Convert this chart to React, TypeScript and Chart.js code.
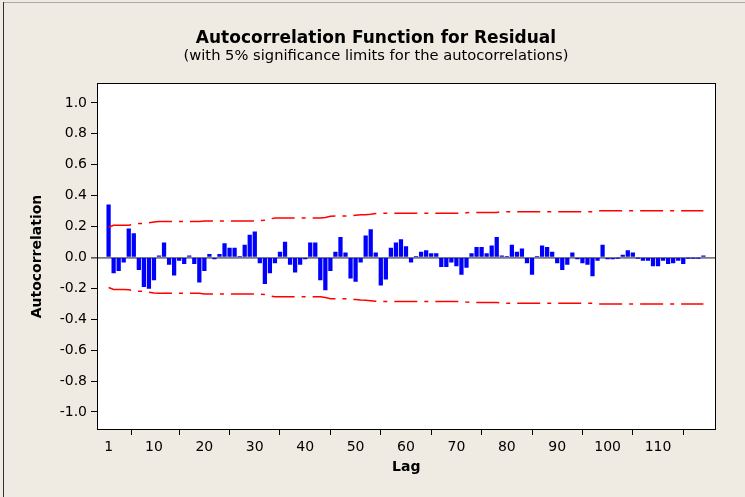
import React, { useEffect, useRef } from "react";
import { Chart, registerables } from "chart.js";

Chart.register(...registerables);

const titleText = "Autocorrelation Function for Residual";
const subtitleText = "(with 5% significance limits for the autocorrelations)";
const xTitle = "Lag";
const yTitle = "Autocorrelation";

const xTickValues = [1, 10, 20, 30, 40, 50, 60, 70, 80, 90, 100, 110];
const yTickValues = [-1.0, -0.8, -0.6, -0.4, -0.2, 0.0, 0.2, 0.4, 0.6, 0.8, 1.0];

// autocorrelation for lags 1..119
const acfValues = [
  0.34, -0.10, -0.085, -0.03, 0.185, 0.155, -0.08, -0.19, -0.20, -0.145,
  0.01, 0.095, -0.045, -0.115, -0.02, -0.04, 0.01, -0.04, -0.16, -0.086,
  0.02, -0.01, 0.02, 0.09, 0.06, 0.06, 0.005, 0.08, 0.145, 0.165,
  -0.035, -0.17, -0.10, -0.035, 0.035, 0.10, -0.045, -0.095, -0.045, -0.01,
  0.095, 0.095, -0.145, -0.21, -0.085, 0.035, 0.13, 0.03, -0.135, -0.155,
  -0.03, 0.14, 0.18, 0.03, -0.18, -0.14, 0.06, 0.095, 0.115, 0.07,
  -0.03, 0.005, 0.035, 0.045, 0.025, 0.025, -0.06, -0.06, -0.03, -0.055,
  -0.11, -0.065, 0.025, 0.065, 0.065, 0.025, 0.075, 0.13, 0.01, 0.005,
  0.08, 0.035, 0.055, -0.035, -0.11, 0.005, 0.075, 0.065, 0.035, -0.035,
  -0.08, -0.045, 0.03, -0.01, -0.035, -0.045, -0.12, -0.02, 0.08, -0.01,
  -0.01, -0.005, 0.015, 0.045, 0.03, -0.005, -0.02, -0.02, -0.055, -0.055,
  -0.02, -0.04, -0.035, -0.02, -0.04, -0.005, -0.005, -0.005, 0.01,
];

// upper 5% significance limit for lags 1..119
const upperLimit = [
  0.195, 0.208, 0.208, 0.208, 0.209, 0.215, 0.219, 0.220, 0.225, 0.230,
  0.232, 0.232, 0.232, 0.232, 0.232, 0.232, 0.232, 0.232, 0.232, 0.236,
  0.236, 0.236, 0.236, 0.236, 0.236, 0.236, 0.236, 0.236, 0.236, 0.236,
  0.238, 0.240, 0.249, 0.255, 0.255, 0.255, 0.255, 0.255, 0.255, 0.255,
  0.255, 0.255, 0.255, 0.259, 0.267, 0.268, 0.268, 0.268, 0.270, 0.273,
  0.276, 0.277, 0.280, 0.284, 0.286, 0.286, 0.286, 0.286, 0.286, 0.286,
  0.286, 0.286, 0.286, 0.286, 0.286, 0.286, 0.286, 0.286, 0.286, 0.286,
  0.286, 0.289, 0.291, 0.291, 0.291, 0.291, 0.291, 0.291, 0.296, 0.296,
  0.296, 0.296, 0.296, 0.296, 0.296, 0.296, 0.296, 0.296, 0.296, 0.296,
  0.296, 0.296, 0.296, 0.296, 0.296, 0.296, 0.296, 0.302, 0.302, 0.302,
  0.302, 0.302, 0.302, 0.302, 0.302, 0.302, 0.302, 0.302, 0.302, 0.302,
  0.302, 0.302, 0.302, 0.302, 0.302, 0.302, 0.302, 0.302, 0.302,
];

// lower 5% significance limit for lags 1..119
const lowerLimit = [
  -0.195, -0.208, -0.208, -0.208, -0.209, -0.215, -0.219, -0.220, -0.225, -0.230,
  -0.232, -0.232, -0.232, -0.232, -0.232, -0.232, -0.232, -0.232, -0.232, -0.236,
  -0.236, -0.236, -0.236, -0.236, -0.236, -0.236, -0.236, -0.236, -0.236, -0.236,
  -0.238, -0.240, -0.249, -0.255, -0.255, -0.255, -0.255, -0.255, -0.255, -0.255,
  -0.255, -0.255, -0.255, -0.259, -0.267, -0.268, -0.268, -0.268, -0.270, -0.273,
  -0.276, -0.277, -0.280, -0.284, -0.286, -0.286, -0.286, -0.286, -0.286, -0.286,
  -0.286, -0.286, -0.286, -0.286, -0.286, -0.286, -0.286, -0.286, -0.286, -0.286,
  -0.286, -0.289, -0.291, -0.291, -0.291, -0.291, -0.291, -0.291, -0.296, -0.296,
  -0.296, -0.296, -0.296, -0.296, -0.296, -0.296, -0.296, -0.296, -0.296, -0.296,
  -0.296, -0.296, -0.296, -0.296, -0.296, -0.296, -0.296, -0.302, -0.302, -0.302,
  -0.302, -0.302, -0.302, -0.302, -0.302, -0.302, -0.302, -0.302, -0.302, -0.302,
  -0.302, -0.302, -0.302, -0.302, -0.302, -0.302, -0.302, -0.302, -0.302,
];

const lags = acfValues.map((_, i) => i + 1);

const BG = "#EFEBE2";
const FONT = "'DejaVu Sans', Verdana, sans-serif";

const framePlugin = {
  id: "frame",
  beforeDraw(chart: any) {
    const { ctx, chartArea, width, height } = chart;
    ctx.save();
    ctx.fillStyle = BG;
    ctx.fillRect(0, 0, width, height);
    ctx.fillStyle = "#ffffff";
    ctx.fillRect(chartArea.left, chartArea.top, chartArea.right - chartArea.left, chartArea.bottom - chartArea.top);
    // outer window edges
    ctx.fillStyle = "#a8a8a8";
    ctx.fillRect(3, 2, width - 3, 1);
    ctx.fillStyle = "#303030";
    ctx.fillRect(3, 2, 1, height - 2);
    ctx.restore();
  },
  afterDraw(chart: any) {
    const { ctx, chartArea } = chart;
    ctx.save();
    ctx.strokeStyle = "#000";
    ctx.lineWidth = 1;
    ctx.strokeRect(
      Math.round(chartArea.left) + 0.5,
      Math.round(chartArea.top) + 0.5,
      Math.round(chartArea.right - chartArea.left) - 1,
      Math.round(chartArea.bottom - chartArea.top) - 1
    );
    ctx.restore();
  },
};

export default function App() {
  const ref = useRef<HTMLCanvasElement | null>(null);

  useEffect(() => {
    document.body.style.margin = "0";
    const canvas = ref.current;
    if (!canvas) return;
    Chart.defaults.font.family = FONT;
    Chart.defaults.color = "#000";

    const chart = new Chart(canvas, {
      type: "bar",
      data: {
        datasets: [
          {
            type: "line",
            label: "upper",
            data: lags.map((l, i) => ({ x: l, y: upperLimit[i] })),
            borderColor: "#FF0000",
            borderWidth: 1.5,
            borderDash: [23, 7, 4, 7],
            pointRadius: 0,
            tension: 0,
            fill: false,
          } as any,
          {
            type: "line",
            label: "lower",
            data: lags.map((l, i) => ({ x: l, y: lowerLimit[i] })),
            borderColor: "#FF0000",
            borderWidth: 1.5,
            borderDash: [23, 7, 4, 7],
            pointRadius: 0,
            tension: 0,
            fill: false,
          } as any,
          {
            type: "bar",
            label: "ACF",
            data: lags.map((l, i) => ({ x: l, y: acfValues[i] })),
            backgroundColor: "#0000FF",
            borderWidth: 0,
            barThickness: 3.6,
          } as any,
        ],
      },
      options: {
        responsive: false,
        animation: false,
        layout: { padding: { left: 7, right: 0, top: 0, bottom: 0 } },
        plugins: {
          legend: { display: false },
          tooltip: { enabled: false },
          title: {
            display: true,
            text: titleText,
            color: "#000",
            font: { family: FONT, size: 17, weight: "bold", lineHeight: 1.0 },
            padding: { top: 30.5, bottom: 0 },
          },
          subtitle: {
            display: true,
            text: subtitleText,
            color: "#000",
            font: { family: FONT, size: 14.7, weight: "normal", lineHeight: 1.0 },
            padding: { top: 1.6, bottom: 19.2 },
          },
        },
        scales: {
          x: {
            type: "linear",
            min: -1.3,
            max: 121.4,
            offset: false,
            grid: { drawOnChartArea: false, drawTicks: true, tickLength: 5, color: "#000", tickColor: "#000" },
            border: { display: false },
            ticks: {
              font: { family: FONT, size: 14 },
              color: "#000",
              padding: 4,
              autoSkip: false,
              maxRotation: 0,
              callback: (v: any) => String(v),
            },
            afterBuildTicks: (scale: any) => {
              scale.ticks = xTickValues.map((v) => ({ value: v }));
            },
            afterFit: (scale: any) => {
              scale.height = 67;
            },
            title: {
              display: true,
              text: xTitle,
              color: "#000",
              font: { family: FONT, size: 14, weight: "bold" },
              padding: { top: 0, bottom: 21.6 },
            },
          },
          y: {
            type: "linear",
            min: -1.117,
            max: 1.129,
            grid: {
              drawOnChartArea: true,
              drawTicks: true,
              tickLength: 6,
              color: (ctx: any) => (ctx.tick && ctx.tick.value === 0 ? "#7a7a7a" : "rgba(0,0,0,0)"),
              lineWidth: (ctx: any) => (ctx.tick && ctx.tick.value === 0 ? 1.8 : 1),
              tickColor: "#000",
              tickWidth: 1,
            },
            border: { display: false },
            ticks: {
              font: { family: FONT, size: 14 },
              color: "#000",
              padding: 4,
              autoSkip: false,
              callback: (v: any) => Number(v).toFixed(1),
            },
            afterBuildTicks: (scale: any) => {
              scale.ticks = yTickValues.map((v) => ({ value: v }));
            },
            afterFit: (scale: any) => {
              scale.width = 90;
            },
            title: {
              display: true,
              text: yTitle,
              color: "#000",
              font: { family: FONT, size: 14, weight: "bold" },
              padding: { top: 21.6, bottom: 0 },
            },
          },
          yRightSpace: {
            type: "linear",
            position: "right",
            display: true,
            grid: { display: false, drawTicks: false },
            border: { display: false },
            ticks: { display: false },
            afterFit: (scale: any) => {
              scale.width = 29.5;
            },
          },
        },
      },
      plugins: [framePlugin],
    });

    return () => chart.destroy();
  }, []);

  return (
    <div style={{ position: "absolute", left: 0, top: 0, width: 745, height: 497 }}>
      <canvas ref={ref} width={745} height={497} style={{ display: "block", width: 745, height: 497 }} />
    </div>
  );
}
